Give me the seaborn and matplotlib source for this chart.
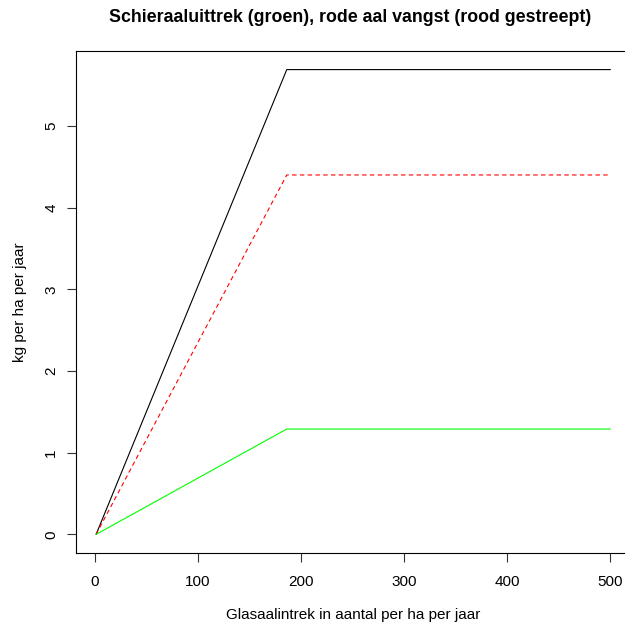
import matplotlib
matplotlib.use("Agg")
import matplotlib.pyplot as plt
import seaborn as sns
import pandas as pd

# Glass-eel inflow (number per ha per year) at the curve nodes
glasaal_intrek = [1, 186, 500]
# Yield in kg per ha per year
schieraal_uittrek = [0.0, 1.29, 1.29]   # silver eel escapement (green)
rode_aal_vangst = [0.0, 4.40, 4.40]     # yellow eel catch (red dashed)
totaal = [0.0, 5.69, 5.69]              # total (black)

x_ticks = [0, 100, 200, 300, 400, 500]
y_ticks = [0, 1, 2, 3, 4, 5]

df = pd.DataFrame({
    "x": glasaal_intrek * 3,
    "y": totaal + rode_aal_vangst + schieraal_uittrek,
    "reeks": ["totaal"] * 3 + ["vangst"] * 3 + ["uittrek"] * 3,
})

sns.set_style("white")
plt.rcParams["font.family"] = ["Liberation Sans", "DejaVu Sans"]
plt.rcParams.update({
    "text.color": "black",
    "axes.labelcolor": "black",
    "xtick.color": "black",
    "ytick.color": "black",
})

fig = plt.figure(figsize=(6.25, 6.28), dpi=100)
W, H = 625, 628
left, right, top, bottom = 75.5, 631, 51, 553
ax = fig.add_axes([left / W, (H - bottom) / H, (right - left) / W, (bottom - top) / H])

sns.lineplot(data=df[df.reeks == "totaal"], x="x", y="y", color="black",
             linewidth=0.8, ax=ax, legend=False)
sns.lineplot(data=df[df.reeks == "vangst"], x="x", y="y", color="red",
             linewidth=0.8, ax=ax, legend=False, dashes=False)
ax.lines[-1].set_dashes((4, 3))
sns.lineplot(data=df[df.reeks == "uittrek"], x="x", y="y", color="#00ff00",
             linewidth=0.8, ax=ax, legend=False)

ax.set_xlim(-18.96, 519.96)
ax.set_ylim(-0.2276, 5.9176)
ax.set_xticks(x_ticks)
ax.set_yticks(y_ticks)
ax.set_yticklabels([str(v) for v in y_ticks], rotation=90, va="center")
ax.tick_params(axis="both", which="major", direction="out", length=6.5,
               width=0.8, color="#333333", labelcolor="black", labelsize=11,
               bottom=True, left=True)
ax.tick_params(axis="x", pad=9)
ax.tick_params(axis="y", pad=6)
for s in ax.spines.values():
    s.set_color("black")
    s.set_linewidth(0.8)
    s.set_visible(True)

ax.set_xlabel("Glasaalintrek in aantal per ha per jaar", fontsize=11, labelpad=14)
ax.set_ylabel("kg per ha per jaar", fontsize=11, labelpad=12)
fig.text(350 / W, 1 - 18 / H,
         "Schieraaluittrek (groen), rode aal vangst (rood gestreept)",
         ha="center", va="center", fontsize=12.8, fontweight="bold", color="black")

fig.savefig("out.png", dpi=100)
